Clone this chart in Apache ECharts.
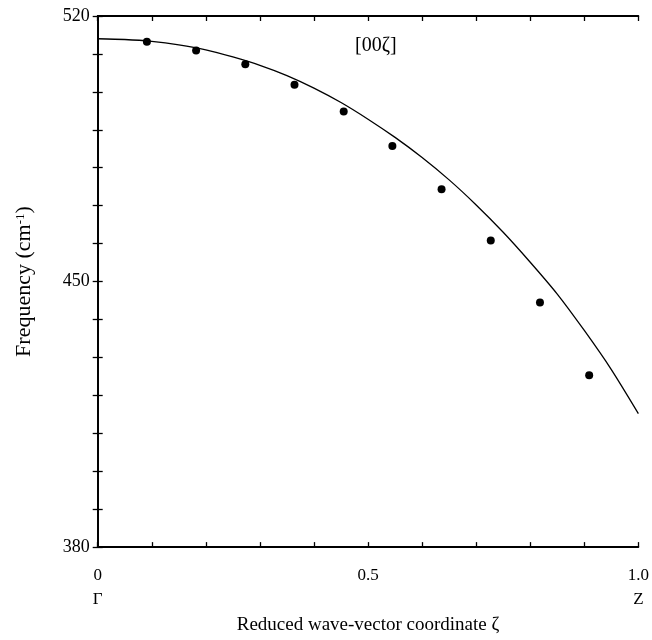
<!DOCTYPE html>
<html>
<head>
<meta charset="utf-8">
<script src="https://cdn.jsdelivr.net/npm/echarts@6/dist/echarts.min.js"></script>
<style>
html,body{margin:0;padding:0;background:#fff;}
#chart{width:652px;height:640px;}
</style>
</head>
<body>
<div id="chart"></div>
<script>
// Data
const curveZeta = [0, 0.05, 0.1, 0.15, 0.2, 0.25, 0.3, 0.35, 0.4, 0.45, 0.5, 0.55, 0.6, 0.65, 0.7, 0.75, 0.8, 0.85, 0.9, 0.95, 1.0];
const curveFreq = [514.0, 513.8, 513.3, 512.4, 511.1, 509.2, 507.0, 504.3, 501.0, 497.2, 492.8, 488.0, 482.7, 476.8, 470.2, 463.0, 455.1, 446.7, 437.1, 426.8, 415.2];
const pointZeta = [0.091, 0.182, 0.273, 0.364, 0.455, 0.545, 0.636, 0.727, 0.818, 0.909];
const pointFreq = [513.2, 510.9, 507.3, 501.9, 494.8, 485.7, 474.3, 460.8, 444.5, 425.3];
const xTickValues = [0, 0.5, 1.0];
const xTickText = ['0', '0.5', '1.0'];
const xTickSymbol = ['Γ', '', 'Z'];
const yTickValues = [380, 450, 520];
const yTickText = ['380', '450', '520'];
const panelLabelParts = ['[00', 'ζ', ']'];
const xTitle = 'Reduced wave-vector coordinate ζ';
const yTitle = 'Frequency (cm{sup|-1})';

const FONT = "'Liberation Serif', 'Times New Roman', serif";
const chart = echarts.init(document.getElementById('chart'), null, {renderer: 'canvas'});

function xLabel(v) {
  for (let i = 0; i < xTickValues.length; i++) {
    if (Math.abs(v - xTickValues[i]) < 1e-6) {
      return xTickSymbol[i] ? xTickText[i] + '\n' + xTickSymbol[i] : xTickText[i];
    }
  }
  return '';
}
function yLabel(v) {
  for (let i = 0; i < yTickValues.length; i++) {
    if (Math.abs(v - yTickValues[i]) < 1e-6) return yTickText[i];
  }
  return '';
}

const lineStyleAxis = {color: '#000', width: 1.8};
const tickStyle = {show: true, inside: true, length: 5, lineStyle: {color: '#000', width: 1.3}};
const partStyle = {fontFamily: FONT, fontSize: 20, color: '#000'};

chart.setOption({
  animation: false,
  backgroundColor: '#fff',
  graphic: [{
    type: 'text',
    left: 355, top: 36,
    style: {
      text: '{a|' + panelLabelParts[0] + '}{b|' + panelLabelParts[1] + '}{c|' + panelLabelParts[2] + '}',
      rich: {a: partStyle, b: partStyle, c: partStyle}
    }
  }],
  grid: {left: 97.7, right: 10.3, top: 16, bottom: 90.3},
  xAxis: [{
    type: 'value', min: 0, max: 1, interval: 0.1, position: 'bottom',
    name: xTitle, nameLocation: 'middle', nameGap: 64,
    nameTextStyle: {fontFamily: FONT, fontSize: 19, color: '#000'},
    axisLine: {show: true, lineStyle: lineStyleAxis},
    axisTick: tickStyle,
    splitLine: {show: false},
    axisLabel: {formatter: xLabel, fontFamily: FONT, fontSize: 17, color: '#000', margin: 16, lineHeight: 24, showMinLabel: true, showMaxLabel: true}
  }, {
    type: 'value', min: 0, max: 1, interval: 0.1, position: 'top',
    axisLine: {show: true, lineStyle: lineStyleAxis},
    axisTick: tickStyle,
    splitLine: {show: false},
    axisLabel: {show: false}
  }],
  yAxis: [{
    type: 'value', min: 380, max: 520, interval: 10, position: 'left',
    name: yTitle, nameLocation: 'middle', nameGap: 62, nameRotate: 90,
    nameTextStyle: {fontFamily: FONT, fontSize: 22, color: '#000',
      rich: {sup: {fontFamily: FONT, fontSize: 13, verticalAlign: 'top', color: '#000', padding: [0,0,9,0]}}},
    axisLine: {show: true, lineStyle: lineStyleAxis},
    axisTick: tickStyle,
    splitLine: {show: false},
    axisLabel: {formatter: yLabel, fontFamily: FONT, fontSize: 18, color: '#000', margin: 8}
  }, {
    type: 'value', min: 380, max: 520, interval: 10, position: 'right',
    axisLine: {show: true, lineStyle: lineStyleAxis},
    axisTick: tickStyle,
    splitLine: {show: false},
    axisLabel: {show: false}
  }],
  series: [{
    type: 'line',
    data: curveZeta.map((z, i) => [z, curveFreq[i]]),
    smooth: 0.25,
    showSymbol: false,
    lineStyle: {color: '#000', width: 1.3},
    silent: true
  }, {
    type: 'scatter',
    data: pointZeta.map((z, i) => [z, pointFreq[i]]),
    symbol: 'circle',
    symbolSize: 8,
    itemStyle: {color: '#000', opacity: 1},
    silent: true
  }]
});
</script>
</body>
</html>
